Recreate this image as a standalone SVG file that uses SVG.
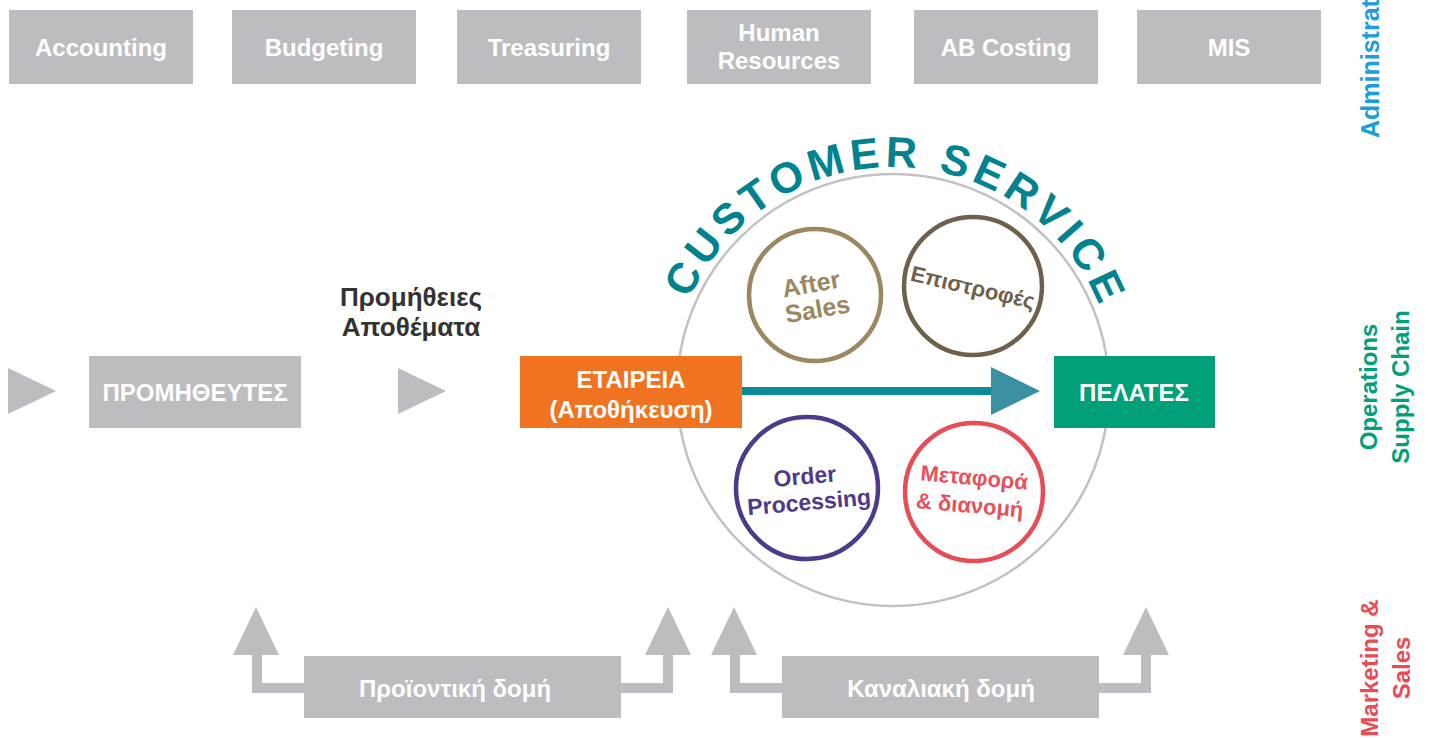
<svg xmlns="http://www.w3.org/2000/svg" width="1429" height="738" viewBox="0 0 1429 738">
<defs>
<style>
text{font-family:"Liberation Sans","DejaVu Sans",sans-serif;font-weight:bold}
.gbox{fill:#bdbcc1}
.wt{fill:#ffffff;font-size:24px;text-anchor:middle}
.gfill{fill:#bdbcc1}
.gline{fill:none;stroke:#bdbcc1;stroke-width:10}
.side{font-size:24px;text-anchor:middle}
</style>
<path id="arcPath" d="M 670 390 A 223 223 0 0 1 1116 390"/>
</defs>
<rect width="1429" height="738" fill="#ffffff"/>

<!-- top administrative boxes -->
<g id="accounting"><rect class="gbox" x="9" y="10" width="184" height="74"/><text class="wt" x="101" y="56">Accounting</text></g>
<g id="budgeting"><rect class="gbox" x="232" y="10" width="184" height="74"/><text class="wt" x="324" y="56">Budgeting</text></g>
<g id="treasuring"><rect class="gbox" x="457" y="10" width="184" height="74"/><text class="wt" x="549" y="56">Treasuring</text></g>
<g id="hr"><rect class="gbox" x="687" y="10" width="184" height="74"/><text class="wt" x="779" y="41">Human</text><text class="wt" x="779" y="69">Resources</text></g>
<g id="abcosting"><rect class="gbox" x="914" y="10" width="184" height="74"/><text class="wt" x="1006" y="56">AB Costing</text></g>
<g id="mis"><rect class="gbox" x="1137" y="10" width="184" height="74"/><text class="wt" x="1229" y="56">MIS</text></g>

<!-- side labels -->
<g id="side-admin"><text transform="translate(1379 138) rotate(-90)" style="font-size:25px;fill:#1a9fdc">Administration</text></g>
<g id="side-ops"><text class="side" transform="translate(1377 387) rotate(-90)" style="fill:#00a078">Operations</text><text class="side" transform="translate(1409 387) rotate(-90)" style="fill:#00a078">Supply Chain</text></g>
<g id="side-mkt"><text class="side" transform="translate(1378 668) rotate(-90)" style="fill:#e84c55">Marketing &amp;</text><text class="side" transform="translate(1410 668) rotate(-90)" style="fill:#e84c55">Sales</text></g>

<!-- customer service circle -->
<g id="customer-service">
<circle cx="893" cy="390" r="216" fill="none" stroke="#c2c1c5" stroke-width="2.5"/>
<text style="font-size:43px;fill:#00838f;letter-spacing:5px"><textPath href="#arcPath" startOffset="50.8%" text-anchor="middle">CUSTOMER SERVICE</textPath></text>
</g>

<!-- connectors -->
<g id="connectors">
<polygon class="gfill" points="8,368 56,391 8,414"/>
<polygon class="gfill" points="398,368 446,391 398,414"/>
<line x1="742" y1="391" x2="1000" y2="391" stroke="#0e8a96" stroke-width="8"/>
<polygon points="991,367 1040,391 991,415" fill="#3a8fa0"/>
<polyline class="gline" points="304,688 257,688 257,652"/>
<polygon class="gfill" points="233,655 256,607 279,655"/>
<polyline class="gline" points="620,688 668,688 668,652"/>
<polygon class="gfill" points="645,655 668,607 691,655"/>
<polyline class="gline" points="782,688 735,688 735,652"/>
<polygon class="gfill" points="711,655 734,607 757,655"/>
<polyline class="gline" points="1099,688 1146,688 1146,652"/>
<polygon class="gfill" points="1123,655 1146,607 1169,655"/>
</g>

<!-- inner circles -->
<g id="after-sales">
<circle cx="815" cy="295" r="66" fill="#ffffff" stroke="#9b8760" stroke-width="4.5"/>
<g transform="rotate(-10 815 295)" style="fill:#9b8760;font-size:25px;text-anchor:middle"><text x="813" y="292">After</text><text x="815" y="318">Sales</text></g>
</g>
<g id="epistrofes">
<circle cx="973" cy="286" r="69" fill="#ffffff" stroke="#6e604c" stroke-width="4.5"/>
<g transform="rotate(13 973 287)" style="fill:#6e604c;font-size:22px;text-anchor:middle"><text x="973" y="295">Επιστροφές</text></g>
</g>
<g id="order-processing">
<circle cx="807" cy="488" r="71" fill="#ffffff" stroke="#4e3a8a" stroke-width="4.5"/>
<g transform="rotate(-5 808 490)" style="fill:#4e3a8a;font-size:23px;text-anchor:middle"><text x="806" y="484">Order</text><text x="808" y="510">Processing</text></g>
</g>
<g id="metafora">
<circle cx="974" cy="492" r="69" fill="#ffffff" stroke="#e84c55" stroke-width="4.5"/>
<g transform="rotate(5 973 492)" style="fill:#e8505a;font-size:22px;text-anchor:middle"><text x="973" y="485">Μεταφορά</text><text x="971" y="513">&amp; διανομή</text></g>
</g>

<!-- main flow boxes -->
<g id="promitheutes"><rect class="gbox" x="89" y="356" width="212" height="72"/><text class="wt" x="195" y="401">ΠΡΟΜΗΘΕΥΤΕΣ</text></g>
<g id="promitheies"><text x="411" y="306" style="font-size:26px;fill:#333333;text-anchor:middle">Προμήθειες</text><text x="411" y="336" style="font-size:26px;fill:#333333;text-anchor:middle">Αποθέματα</text></g>
<g id="etaireia"><rect x="520" y="356" width="222" height="72" fill="#ef7320"/><text class="wt" x="631" y="388" style="font-size:24px">ΕΤΑΙΡΕΙΑ</text><text class="wt" x="631" y="418" style="font-size:24px">(Αποθήκευση)</text></g>
<g id="pelates"><rect x="1054" y="356" width="161" height="72" fill="#00a078"/><text class="wt" x="1134" y="401">ΠΕΛΑΤΕΣ</text></g>

<!-- bottom structures -->
<g id="proiontiki"><rect class="gbox" x="304" y="656" width="317" height="62"/><text class="wt" x="455" y="697">Προϊοντική δομή</text></g>
<g id="kanaliaki"><rect class="gbox" x="782" y="656" width="317" height="62"/><text class="wt" x="941" y="697">Καναλιακή δομή</text></g>
</svg>
